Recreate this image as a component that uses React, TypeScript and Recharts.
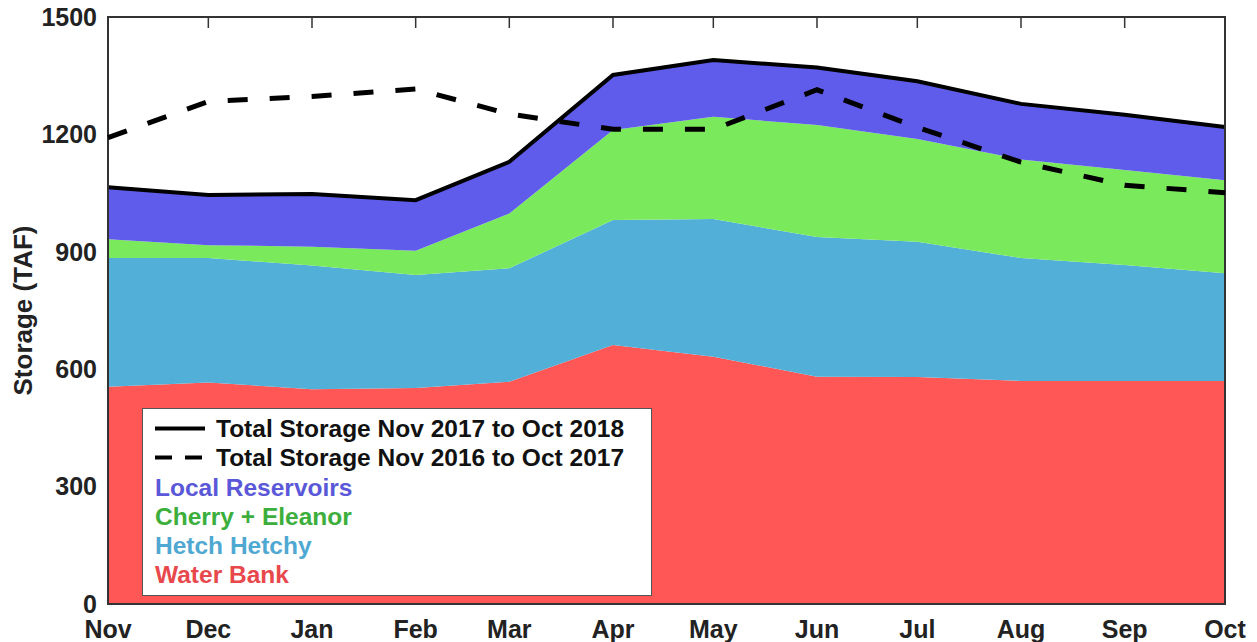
import React from "react"
import { ComposedChart, Area, Line, XAxis, YAxis, Legend, ReferenceArea, CartesianGrid } from "recharts"

const months = ["Nov", "Dec", "Jan", "Feb", "Mar", "Apr", "May", "Jun", "Jul", "Aug", "Sep", "Oct"]
// days since Nov 1 for each month start (the x axis is a date axis)
const dayOffsets = [0, 30, 61, 92, 120, 151, 181, 212, 242, 273, 304, 334]

const waterBank = [555, 566, 549, 552, 568, 662, 632, 581, 580, 570, 570, 570]
const hetchHetchy = [329, 318, 316, 289, 290, 319, 352, 357, 346, 314, 296, 275]
const cherryEleanor = [48, 33, 48, 62, 140, 230, 261, 286, 262, 252, 243, 238]
const localReservoirs = [133, 128, 135, 129, 132, 141, 145, 147, 148, 142, 141, 136]
const total2016 = [1192, 1284, 1297, 1316, 1252, 1213, 1213, 1314, 1218, 1129, 1070, 1051]

const yTicks = [0, 300, 600, 900, 1200, 1500]

const chartData = months.map((month, i) => ({
    month,
    day: dayOffsets[i],
    waterBank: waterBank[i],
    hetchHetchy: hetchHetchy[i],
    cherryEleanor: cherryEleanor[i],
    localReservoirs: localReservoirs[i],
    total2016: total2016[i],
}))

const FONT = "'Liberation Sans', Arial, Helvetica, sans-serif"

const legendRows = [
    { label: "Local Reservoirs", color: "#5a58d8" },
    { label: "Cherry + Eleanor", color: "#3cae3c" },
    { label: "Hetch Hetchy", color: "#4fa8d2" },
    { label: "Water Bank", color: "#e8484b" },
]

const StorageLegend = () => (
    <div
        style={{
            background: "#fff",
            border: "1px solid #555",
            width: 510,
            height: 188,
            boxSizing: "border-box",
            padding: "5px 0 0 12px",
            fontFamily: FONT,
            fontWeight: 700,
            fontSize: 24.5,
            lineHeight: "29.3px",
            color: "#111",
            textAlign: "left",
        }}
    >
        <div style={{ display: "flex", alignItems: "center", height: 29.3 }}>
            <svg width={50} height={29} style={{ marginRight: 11 }}>
                <line x1={0} x2={50} y1={14.5} y2={14.5} stroke="#000" strokeWidth={4} />
            </svg>
            <span>Total Storage Nov 2017 to Oct 2018</span>
        </div>
        <div style={{ display: "flex", alignItems: "center", height: 29.3 }}>
            <svg width={50} height={29} style={{ marginRight: 11 }}>
                <line x1={0} x2={50} y1={14.5} y2={14.5} stroke="#000" strokeWidth={4} strokeDasharray="17 13" />
            </svg>
            <span>Total Storage Nov 2016 to Oct 2017</span>
        </div>
        {legendRows.map((row) => (
            <div key={row.label} style={{ color: row.color, height: 29.3 }}>
                {row.label}
            </div>
        ))}
    </div>
)

const tickStyle = { fontFamily: FONT, fontSize: 25, fontWeight: 700, fill: "#222" }

const App = () => {
    return (
        <div style={{ position: "absolute", left: 0, top: 0, background: "#fff" }}>
            <ComposedChart
                width={1257}
                height={642}
                data={chartData}
                margin={{ top: 17, right: 32, bottom: 8, left: 8 }}
            >
                {/* short dash at the top of each vertical grid line = inward tick marks on the top edge */}
                <CartesianGrid
                    horizontal={false}
                    stroke="#333"
                    strokeWidth={1.5}
                    strokeDasharray="11 2000"
                />
                <XAxis
                    dataKey="day"
                    type="number"
                    domain={[0, 334]}
                    ticks={dayOffsets}
                    tickFormatter={(v) => months[dayOffsets.indexOf(v)]}
                    tick={tickStyle}
                    tickLine={false}
                    axisLine={false}
                    tickSize={8}
                    tickMargin={8}
                    height={30}
                    interval={0}
                />
                <YAxis
                    type="number"
                    domain={[0, 1500]}
                    ticks={yTicks}
                    tick={tickStyle}
                    tickLine={false}
                    axisLine={false}
                    tickSize={0}
                    tickMargin={11}
                    width={100}
                    interval={0}
                    label={{
                        content: ({ viewBox }: any) => {
                            const cx = viewBox.x + 15
                            const cy = viewBox.y + viewBox.height / 2
                            return (
                                <text
                                    x={cx}
                                    y={cy}
                                    transform={`rotate(-90 ${cx} ${cy})`}
                                    textAnchor="middle"
                                    dominantBaseline="central"
                                    style={{ fontFamily: FONT, fontSize: 26, fontWeight: 700, fill: "#222" }}
                                >
                                    Storage (TAF)
                                </text>
                            )
                        },
                    }}
                />
                <Area
                    type="linear"
                    dataKey="waterBank"
                    stackId="s"
                    fill="#ff5656"
                    fillOpacity={1}
                    stroke="none"
                    isAnimationActive={false}
                />
                <Area
                    type="linear"
                    dataKey="hetchHetchy"
                    stackId="s"
                    fill="#52b0d8"
                    fillOpacity={1}
                    stroke="none"
                    isAnimationActive={false}
                />
                <Area
                    type="linear"
                    dataKey="cherryEleanor"
                    stackId="s"
                    fill="#7aea5c"
                    fillOpacity={1}
                    stroke="none"
                    isAnimationActive={false}
                />
                <Area
                    type="linear"
                    dataKey="localReservoirs"
                    stackId="s"
                    fill="#5f5ceb"
                    fillOpacity={1}
                    stroke="#000"
                    strokeWidth={4}
                    isAnimationActive={false}
                />
                <Line
                    type="linear"
                    dataKey="total2016"
                    stroke="#000"
                    strokeWidth={5}
                    strokeDasharray="20 22"
                    dot={false}
                    activeDot={false}
                    isAnimationActive={false}
                />
                <ReferenceArea
                    x1={0}
                    x2={334}
                    y1={0}
                    y2={1500}
                    fill="none"
                    stroke="#333"
                    strokeWidth={2}
                    ifOverflow="visible"
                />
                <Legend
                    layout="vertical"
                    align="center"
                    verticalAlign="middle"
                    wrapperStyle={{ left: 142, top: 408, width: 510 }}
                    content={<StorageLegend />}
                />
            </ComposedChart>
        </div>
    )
}

export default App
